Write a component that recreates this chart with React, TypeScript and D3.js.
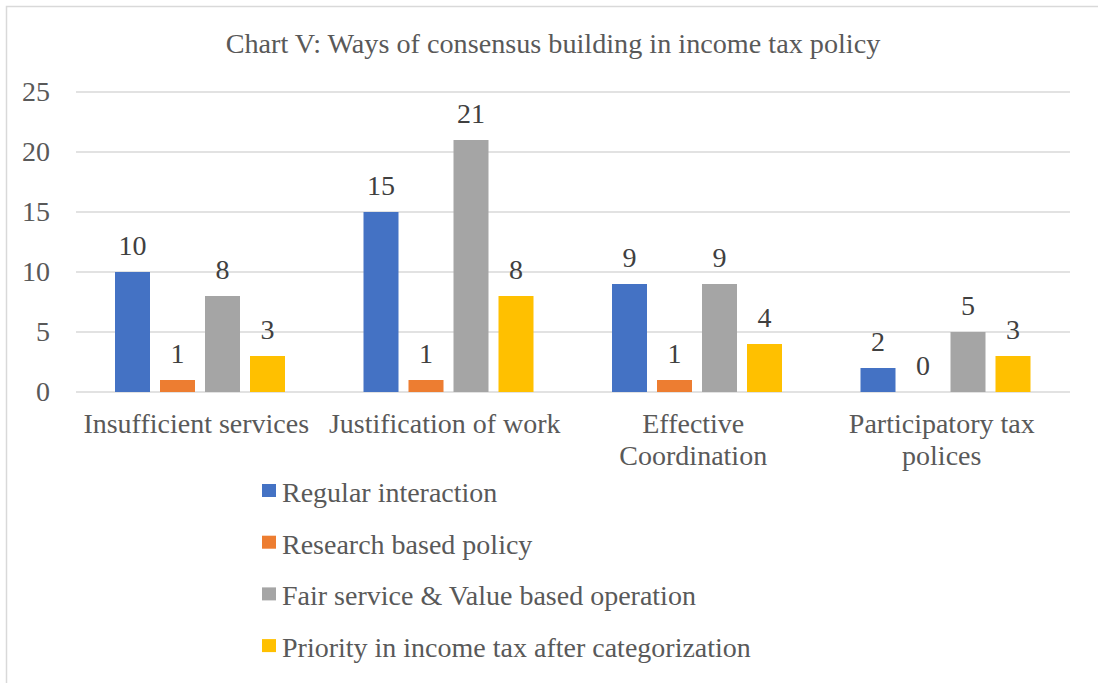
import React from "react";
import * as d3 from "d3";

const categories: string[][] = [
  ["Insufficient services"],
  ["Justification of work"],
  ["Effective", "Coordination"],
  ["Participatory tax", "polices"],
];
const seriesNames = [
  "Regular interaction",
  "Research based policy",
  "Fair service & Value based operation",
  "Priority in income tax after categorization",
];
const seriesColors = ["#4472C4", "#ED7D31", "#A5A5A5", "#FFC000"];
const regularInteraction = [10, 15, 9, 2];
const researchBased = [1, 1, 1, 0];
const fairService = [8, 21, 9, 5];
const priorityIncome = [3, 8, 4, 3];
const seriesValues = [regularInteraction, researchBased, fairService, priorityIncome];
const yTicks = [0, 5, 10, 15, 20, 25];
const title = "Chart V: Ways of consensus building in income tax policy";

const W = 1098;
const H = 683;
const FONT = "'Liberation Serif', 'Times New Roman', serif";
const FS = 28;

export default function App() {
  const x0 = d3
    .scaleBand<number>()
    .domain(d3.range(categories.length))
    .range([76, 1070])
    .paddingInner(0)
    .paddingOuter(0);
  const x1 = d3
    .scaleBand<number>()
    .domain(d3.range(seriesNames.length))
    .range([39, x0.bandwidth() - 39.5])
    .paddingInner(10 / 45)
    .paddingOuter(0);
  const y = d3.scaleLinear().domain([0, 25]).range([392, 92]);

  return (
    <svg
      width={W}
      height={H}
      style={{ position: "absolute", left: 0, top: 0, background: "#fff" }}
      fontFamily={FONT}
    >
      <rect x={0} y={0} width={W} height={H} fill="#fff" />
      <rect x={6.5} y={6.5} width={W + 10} height={H + 10} fill="none" stroke="#D9D9D9" strokeWidth={1.5} />
      <text x={553} y={53} textAnchor="middle" fontSize={28.2} fill="#595959">
        {title}
      </text>
      {yTicks.map((t) => (
        <g key={t}>
          <line x1={76} x2={1070} y1={y(t)} y2={y(t)} stroke="#D9D9D9" strokeWidth={1.5} />
          <text x={50} y={y(t) + 9} textAnchor="end" fontSize={FS} fill="#595959">
            {t}
          </text>
        </g>
      ))}
      {categories.map((cat, ci) => (
        <g key={ci} transform={`translate(${x0(ci)},0)`}>
          {seriesValues.map((vals, si) => {
            const v = vals[ci];
            const bx = x1(si)!;
            return (
              <g key={si}>
                {v > 0 && (
                  <rect x={bx} y={y(v)} width={x1.bandwidth()} height={y(0) - y(v)} fill={seriesColors[si]} />
                )}
                <text
                  x={bx + x1.bandwidth() / 2}
                  y={y(v) - 17}
                  textAnchor="middle"
                  fontSize={FS}
                  fill="#404040"
                >
                  {v}
                </text>
              </g>
            );
          })}
          {cat.map((line, li) => (
            <text
              key={li}
              x={x0.bandwidth() / 2 - 4}
              y={433 + li * 32}
              textAnchor="middle"
              fontSize={FS}
              fill="#595959"
            >
              {line}
            </text>
          ))}
        </g>
      ))}
      {seriesNames.map((name, i) => {
        const cy = 491 + i * 51.7;
        return (
          <g key={name}>
            <rect x={262} y={cy - 7} width={14} height={13} fill={seriesColors[i]} />
            <text x={282} y={cy + 11} fontSize={FS} fill="#595959">
              {name}
            </text>
          </g>
        );
      })}
    </svg>
  );
}
